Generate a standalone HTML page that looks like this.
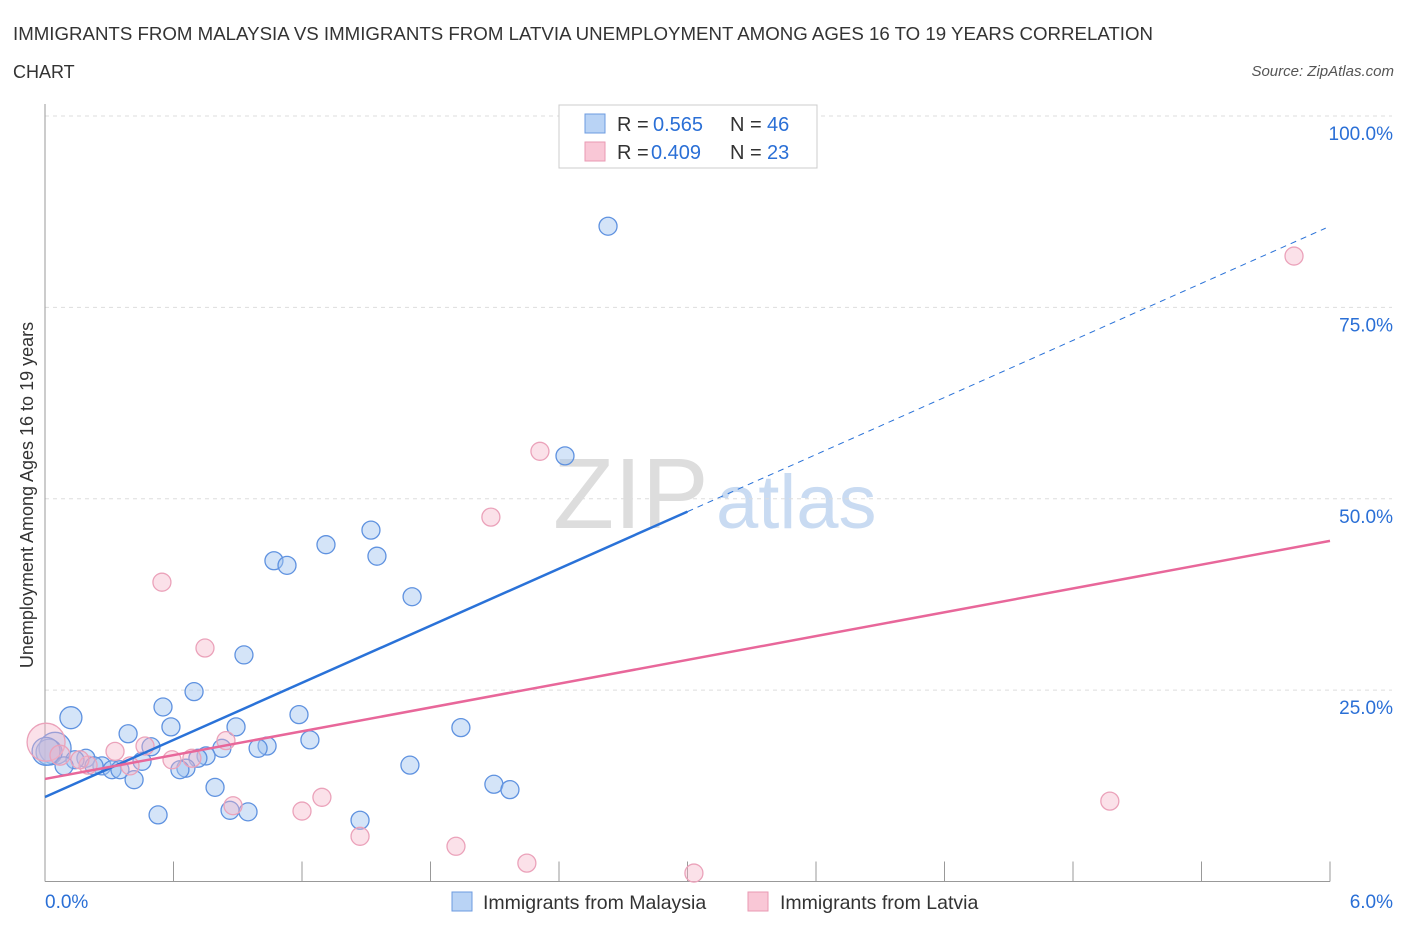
<!DOCTYPE html>
<html><head><meta charset="utf-8"><style>
body{margin:0;background:#fff;font-family:"Liberation Sans",sans-serif}
svg text{font-family:"Liberation Sans",sans-serif}
</style></head><body>
<svg id="chart" width="1406" height="930" viewBox="0 0 1406 930" xmlns="http://www.w3.org/2000/svg">
<text x="13" y="40" font-size="18" fill="#333" textLength="1140" lengthAdjust="spacingAndGlyphs">IMMIGRANTS FROM MALAYSIA VS IMMIGRANTS FROM LATVIA UNEMPLOYMENT AMONG AGES 16 TO 19 YEARS CORRELATION</text>
<text x="13" y="78" font-size="18" fill="#333">CHART</text>
<text x="1394" y="76" font-size="15" fill="#555" text-anchor="end" font-style="italic">Source: ZipAtlas.com</text>
<text x="553" y="528" font-size="100" fill="#ddd" font-family="Liberation Serif">ZIP</text>
<text x="716" y="528" font-size="76" fill="#c9dbf2">atlas</text>
<text transform="translate(33,495) rotate(-90)" font-size="18" fill="#333" text-anchor="middle">Unemployment Among Ages 16 to 19 years</text>
<g id="grid"></g><g id="marks"></g>
<g>
<rect x="559" y="105" width="258" height="63" fill="#fff" stroke="#ccc"/>
<rect x="585" y="114" width="20" height="19" fill="#b9d3f5" stroke="#6c9be0"/>
<rect x="585" y="142" width="20" height="19" fill="#f9c7d6" stroke="#e99ab3"/>
<text x="617" y="131" font-size="20" fill="#333">R =</text><text x="653" y="131" font-size="20" fill="#2a6fd6">0.565</text>
<text x="730" y="131" font-size="20" fill="#333">N =</text><text x="767" y="131" font-size="20" fill="#2a6fd6">46</text>
<text x="617" y="159" font-size="20" fill="#333">R =</text><text x="651" y="159" font-size="20" fill="#2a6fd6">0.409</text>
<text x="730" y="159" font-size="20" fill="#333">N =</text><text x="767" y="159" font-size="20" fill="#2a6fd6">23</text>
</g>
<g>
<rect x="452" y="892" width="20" height="19" fill="#b9d3f5" stroke="#6c9be0"/>
<text x="483" y="909" font-size="19.5" fill="#333">Immigrants from Malaysia</text>
<rect x="748" y="892" width="20" height="19" fill="#f9c7d6" stroke="#e99ab3"/>
<text x="780" y="909" font-size="19.5" fill="#333">Immigrants from Latvia</text>
</g>
</svg>
<script>
const xTicks=[0,0.6,1.2,1.8,2.4,3.0,3.6,4.2,4.8,5.4,6.0];
const yTickVals=[25,50,75,100];
const yTickLabels=["25.0%","50.0%","75.0%","100.0%"];
const malaysiaX=[2.629,2.428,1.522,1.312,1.550,1.069,1.130,1.714,0.929,0.696,0.551,0.121,1.186,0.588,0.892,1.942,0.388,1.237,0.495,0.826,1.037,0.995,0.047,0.019,0.191,0.140,0.752,0.714,0.453,0.266,0.313,0.350,0.089,0.229,0.658,0.630,1.704,0.416,0.794,2.096,2.171,0.528,0.864,0.948,1.471,0.005];
const malaysiaY=[85.6,55.6,45.9,44.0,42.5,41.9,41.3,37.2,29.6,24.8,22.8,21.4,21.8,20.2,20.2,20.1,19.3,18.5,17.6,17.4,17.7,17.4,17.4,16.9,16.1,15.9,16.4,16.1,15.7,15.1,14.6,14.6,15.1,15.1,14.8,14.6,15.2,13.3,12.3,12.7,12.0,8.7,9.3,9.1,8.0,17.0];
const malaysiaR=[9,9,9,9,9,9,9,9,9,9,9,11,9,9,9,9,9,9,9,9,9,9,16,13,9,9,9,9,9,9,9,9,9,9,9,9,9,9,9,9,9,9,9,9,9,14];
const latviaX=[5.832,2.311,2.082,0.546,0.747,0.005,0.327,0.467,0.845,0.686,0.593,0.201,0.397,0.878,1.200,1.293,4.972,1.471,1.919,2.250,3.030,0.070,0.163];
const latviaY=[81.7,56.2,47.6,39.1,30.5,18.2,17.0,17.7,18.4,16.1,15.9,15.2,15.1,9.9,9.2,11.0,10.5,5.9,4.6,2.4,1.1,16.5,15.9];
const latviaR=[9,9,9,9,9,19,9,9,9,9,9,9,9,9,9,9,9,9,9,9,9,10,9];
const malaysiaFit=[11.04,85.6]; const malaysiaSolidEnd=3.0;
const latviaFit=[13.4,44.5];
const X0=45,X1=1330,Y0=881.5,Y1=116;
const sx=v=>X0+(v/6)*(X1-X0), sy=v=>Y0-(v/100)*(Y0-Y1);
const NS="http://www.w3.org/2000/svg";
function mk(p,t,a){const e=document.createElementNS(NS,t);for(const k in a)e.setAttribute(k,a[k]);p.appendChild(e);return e;}
const grid=document.getElementById('grid'),marks=document.getElementById('marks');
yTickVals.forEach((v,i)=>{
 const l=mk(grid,'line',{x1:X0,x2:1392,y1:sy(v),y2:sy(v),stroke:'#ddd','stroke-dasharray':'4,4'});
 
 
 const t=mk(grid,'text',{x:1393,y:sy(v)+24,'font-size':19,fill:'#2a6fd6','text-anchor':'end'});t.textContent=yTickLabels[i];
 
 
});
const ax=mk(grid,'line',{x1:X0,x2:X0,y1:104,y2:Y0,stroke:'#999'});


const bx=mk(grid,'line',{x1:X0,x2:X1,y1:Y0,y2:Y0,stroke:'#999'});


xTicks.forEach(v=>{const t=mk(grid,'line',{x1:sx(v),x2:sx(v),y1:Y0-20,y2:Y0,stroke:'#999'});
 
 });
const xl=mk(grid,'text',{x:45,y:908,'font-size':19,fill:'#2a6fd6'});xl.textContent='0.0%';


const xr=mk(grid,'text',{x:1393,y:908,'font-size':19,fill:'#2a6fd6','text-anchor':'end'});xr.textContent='6.0%';


malaysiaX.forEach((v,i)=>{const c=mk(marks,'circle',{cx:sx(v),cy:sy(malaysiaY[i]),r:malaysiaR[i],fill:'rgba(160,195,240,0.45)',stroke:'#5f92e0','stroke-width':1.3});
 
 });
latviaX.forEach((v,i)=>{const c=mk(marks,'circle',{cx:sx(v),cy:sy(latviaY[i]),r:latviaR[i],fill:'rgba(245,180,200,0.4)',stroke:'#eba2ba','stroke-width':1.3});
 
 });
const bf=v=>malaysiaFit[0]+(malaysiaFit[1]-malaysiaFit[0])*v/6;
const lf=v=>latviaFit[0]+(latviaFit[1]-latviaFit[0])*v/6;
const b1=mk(marks,'line',{x1:sx(0),y1:sy(bf(0)),x2:sx(malaysiaSolidEnd),y2:sy(bf(malaysiaSolidEnd)),stroke:'#2a72d8','stroke-width':2.5});


const b2=mk(marks,'line',{x1:sx(malaysiaSolidEnd),y1:sy(bf(malaysiaSolidEnd)),x2:sx(5.98),y2:sy(bf(5.98)),stroke:'#2a72d8','stroke-width':1,'stroke-dasharray':'6,5'});


const p1=mk(marks,'line',{x1:sx(0),y1:sy(lf(0)),x2:sx(6),y2:sy(lf(6)),stroke:'#e8679a','stroke-width':2.5});


</script>
</body></html>
